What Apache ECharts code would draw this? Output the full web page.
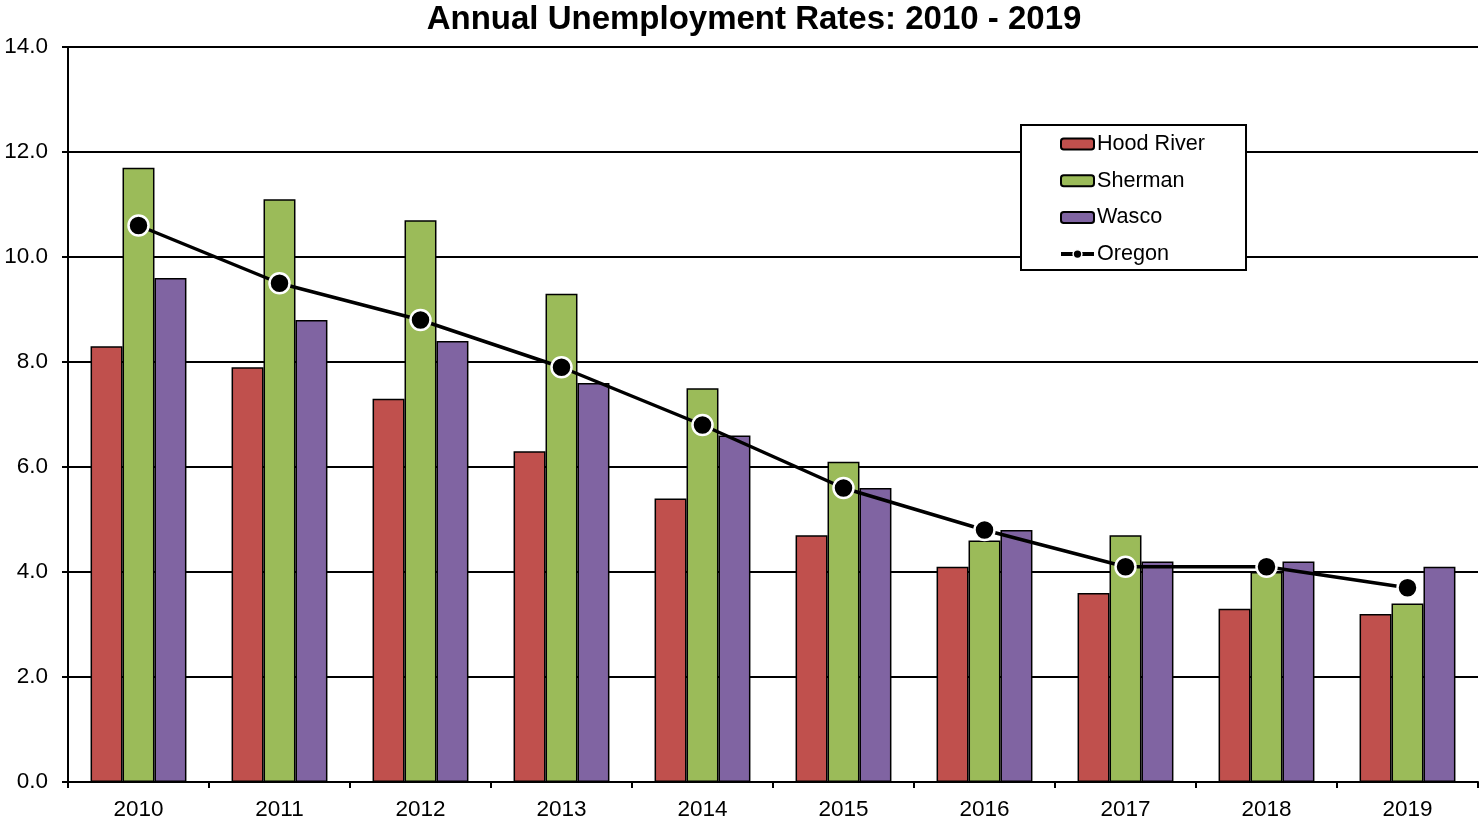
<!DOCTYPE html>
<html>
<head>
<meta charset="utf-8">
<script src="https://cdn.jsdelivr.net/npm/echarts@6/dist/echarts.min.js"></script>
<style>
  html, body { margin: 0; padding: 0; background: #fff; }
  #chart { width: 1482px; height: 824px; }
</style>
</head>
<body>
<div id="chart"></div>
<script>
// data
var years = ['2010', '2011', '2012', '2013', '2014', '2015', '2016', '2017', '2018', '2019'];
var hoodRiver = [8.3, 7.9, 7.3, 6.3, 5.4, 4.7, 4.1, 3.6, 3.3, 3.2];
var sherman = [11.7, 11.1, 10.7, 9.3, 7.5, 6.1, 4.6, 4.7, 4.0, 3.4];
var wasco = [9.6, 8.8, 8.4, 7.6, 6.6, 5.6, 4.8, 4.2, 4.2, 4.1];
var oregon = [10.6, 9.5, 8.8, 7.9, 6.8, 5.6, 4.8, 4.1, 4.1, 3.7];

var font = 'Liberation Sans, Arial, sans-serif';

function barSeries(name, data, color) {
    return {
        name: name,
        type: 'bar',
        data: data,
        barGap: '0%',
        barCategoryGap: '32%',
        itemStyle: { color: color, borderColor: '#000', borderWidth: 1.5 }
    };
}

var myChart = echarts.init(document.getElementById('chart'));
myChart.setOption({
    animation: false,
    title: {
        text: 'Annual Unemployment Rates: 2010 - 2019',
        left: 749,
        textAlign: 'center',
        top: -2,
        textStyle: { fontFamily: font, fontSize: 33, fontWeight: 'bold', color: '#000' }
    },
    grid: { left: 68, right: 4, top: 47, bottom: 42 },
    legend: {
        orient: 'vertical',
        left: 1021,
        top: 125,
        padding: [8, 41, 5, 38],
        itemGap: 14.7,
        itemWidth: 33,
        itemHeight: 11,
        backgroundColor: '#fff',
        borderColor: '#000',
        borderWidth: 2,
        borderRadius: 0,
        textStyle: { fontFamily: font, fontSize: 21.6, color: '#000', padding: [0, 0, 0, -2] },
        data: ['Hood River', 'Sherman', 'Wasco',
            { name: 'Oregon', itemStyle: { borderColor: '#fff', borderWidth: 1.5 }, lineStyle: { width: 4 } }]
    },
    xAxis: {
        type: 'category',
        data: years,
        axisLine: { lineStyle: { color: '#000', width: 2 } },
        axisTick: { show: true, length: 6, interval: 0, lineStyle: { color: '#000', width: 2 } },
        axisLabel: { fontFamily: font, fontSize: 22.5, color: '#000', margin: 16 }
    },
    yAxis: {
        type: 'value',
        min: 0,
        max: 14,
        interval: 2,
        axisLine: { show: true, lineStyle: { color: '#000', width: 2 } },
        axisTick: { show: true, length: 6, lineStyle: { color: '#000', width: 2 } },
        axisLabel: {
            fontFamily: font, fontSize: 22.5, color: '#000', margin: 20,
            formatter: function (v) { return v.toFixed(1); }
        },
        splitLine: { lineStyle: { color: '#000', width: 2 } }
    },
    series: [
        barSeries('Hood River', hoodRiver, '#c0504d'),
        barSeries('Sherman', sherman, '#9bbb59'),
        barSeries('Wasco', wasco, '#8064a2'),
        {
            name: 'Oregon',
            type: 'line',
            data: oregon,
            symbol: 'circle',
            symbolSize: 20,
            z: 5,
            lineStyle: { color: '#000', width: 3.5 },
            itemStyle: { color: '#000', borderColor: '#fff', borderWidth: 2.5 }
        }
    ]
});
</script>
</body>
</html>
